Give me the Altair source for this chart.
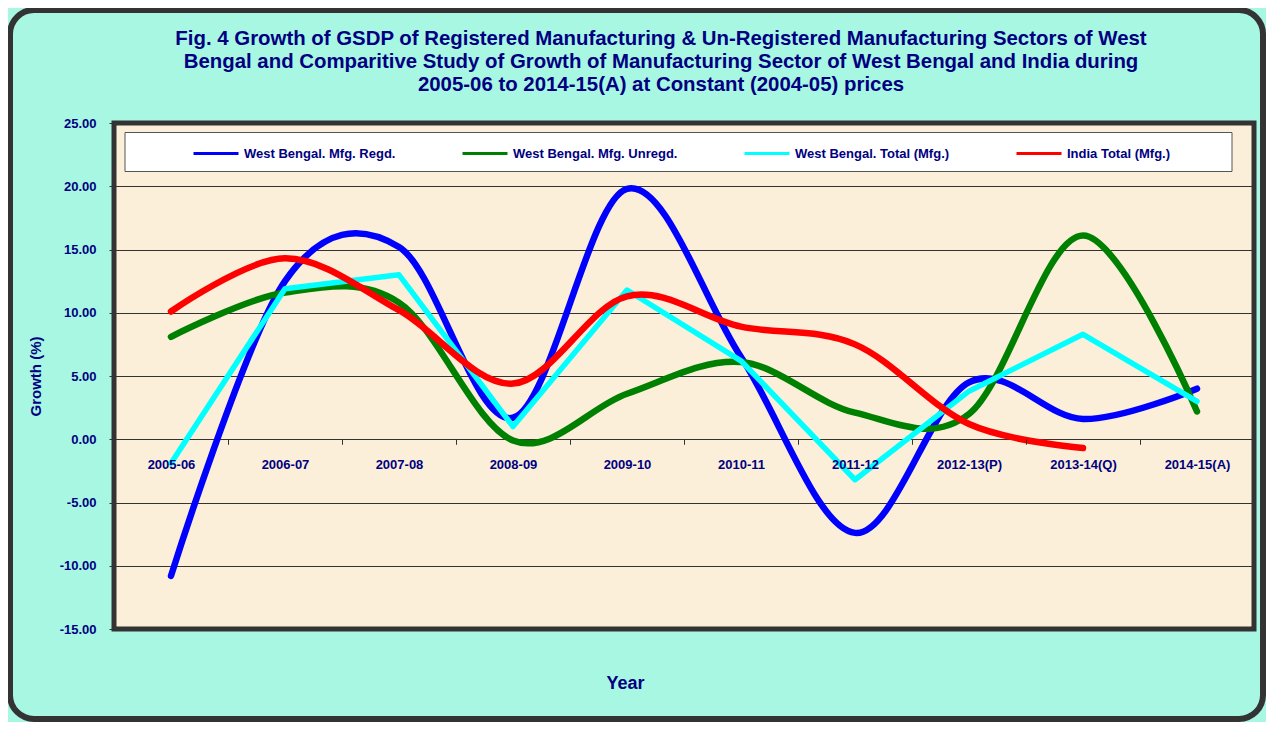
import altair as alt
import pandas as pd

# ---------------- data ----------------
years = ["2005-06", "2006-07", "2007-08", "2008-09", "2009-10", "2010-11",
         "2011-12", "2012-13(P)", "2013-14(Q)", "2014-15(A)"]
wb_regd = [-10.8, 12.5, 15.2, 1.7, 19.8, 6.5, -7.4, 4.5, 1.6, 4.0]
wb_unregd = [8.1, 11.6, 10.8, -0.1, 3.6, 6.1, 2.1, 2.0, 16.1, 2.2]
wb_total = [-1.9, 11.9, 13.0, 1.0, 11.8, 6.2, -3.2, 3.8, 8.3, 3.0]
india_total = [10.1, 14.3, 10.2, 4.4, 11.3, 8.9, 7.5, 1.2, -0.7, None]

series_names = ["West Bengal. Mfg. Regd.", "West Bengal. Mfg. Unregd.",
                "West Bengal. Total (Mfg.)", "India Total (Mfg.)"]
series_colors = ["#0000FF", "#008000", "#00FFFF", "#FF0000"]
series_values = [wb_regd, wb_unregd, wb_total, india_total]
series_interp = ["cardinal", "cardinal", "linear", "cardinal"]

y_ticks = [-15, -10, -5, 0, 5, 10, 15, 20, 25]

title_lines = [
    "Fig. 4 Growth of GSDP of Registered Manufacturing & Un-Registered Manufacturing Sectors of West",
    "Bengal and Comparitive Study of Growth of Manufacturing Sector of West Bengal and India during",
    "2005-06 to 2014-15(A) at Constant (2004-05) prices",
]

rows = []
for name, vals in zip(series_names, series_values):
    for yr, v in zip(years, vals):
        if v is not None:
            rows.append({"year": yr, "series": name, "growth": v})
df = pd.DataFrame(rows)

# ---------------- style ----------------
FONT = "Liberation Sans"
NAVY = "#000080"
W, H = 1140, 506
STEP = W / len(years)
ZERO_OFFSET = -H * (0 - y_ticks[0]) / (y_ticks[-1] - y_ticks[0])

x_enc = alt.X(
    "year:N",
    sort=years,
    scale=alt.Scale(type="point", domain=years, padding=0.5),
    axis=alt.Axis(
        offset=ZERO_OFFSET, domain=False, grid=False, zindex=1,
        tickOffset=-STEP / 2, labelOffset=STEP / 2, tickSize=5, tickColor="#333333",
        tickWidth=1, labelPadding=14, labelAngle=0, labelOverlap=False,
        labelFont=FONT, labelFontSize=13, labelFontWeight="bold", labelColor=NAVY,
        title="Year", titleFont=FONT, titleFontSize=18, titleFontWeight="bold",
        titleColor=NAVY, titleX=511, titleY=244, titleBaseline="middle",
        titleAlign="center",
    ),
)
y_enc = alt.Y(
    "growth:Q",
    scale=alt.Scale(domain=[y_ticks[0], y_ticks[-1]], nice=False, zero=False),
    axis=alt.Axis(
        values=y_ticks,
        labelExpr="(datum.value < 0 ? '-' : '') + format(abs(datum.value), '.2f')",
        domain=False, grid=True, gridColor="#333333",
        gridWidth=1, tickSize=5, tickColor="#333333", labelPadding=13,
        labelFont=FONT, labelFontSize=13, labelFontWeight="bold", labelColor=NAVY,
        title="Growth (%)", titleFont=FONT, titleFontSize=15, titleFontWeight="bold",
        titleColor=NAVY, titleX=-79, titleY=H / 2, titleBaseline="middle",
        titleAlign="center",
    ),
)
legend = alt.Legend(
    title=None, orient="none", legendX=78, legendY=6.5, direction="horizontal",
    columns=4, columnPadding=60, padding=0, symbolType="stroke", symbolSize=2025,
    symbolStrokeWidth=3, labelOffset=4, labelLimit=400, labelFont=FONT, labelFontSize=13,
    labelFontWeight="bold", labelColor=NAVY,
)
color_enc = alt.Color("series:N", scale=alt.Scale(domain=series_names, range=series_colors),
                      legend=legend)

one = pd.DataFrame({"k": [0]})
frame = alt.Chart(one).mark_rect(
    fill="white", fillOpacity=0, stroke="#333333", strokeWidth=6, cornerRadius=24
).encode(x=alt.value(-104), x2=alt.value(W + 9), y=alt.value(-113), y2=alt.value(H + 90))

legend_box = alt.Chart(one).mark_rect(
    fill="white", stroke="#555555", strokeWidth=1
).encode(x=alt.value(11), x2=alt.value(1118), y=alt.value(9.5), y2=alt.value(48.5))

title_text = alt.Chart(one).mark_text(
    text=title_lines, font=FONT, fontSize=20.4, fontWeight="bold", color=NAVY,
    align="center", baseline="alphabetic", lineHeight=23,
).encode(x=alt.value(W / 2 - 23), y=alt.value(-78.5))

layers = [frame, legend_box, title_text]
for name, interp in zip(series_names, series_interp):
    layers.append(
        alt.Chart(df).transform_filter(alt.datum.series == name).mark_line(
            interpolate=interp, strokeWidth=6.5 if interp != "linear" else 5.5,
            strokeCap="round", strokeJoin="round"
        ).encode(x=x_enc, y=y_enc, color=color_enc)
    )

chart = alt.layer(*layers).properties(
    width=W, height=H,
    padding={"left": 106, "top": 115, "right": 12, "bottom": 93},
    autosize=alt.AutoSizeParams(type="none"),
    background="#A8F7E3",
).configure_view(
    fill="#FBEFD9", stroke="#333333", strokeWidth=5
)

chart.save("out.html", embed_options={"renderer": "svg", "actions": False})
